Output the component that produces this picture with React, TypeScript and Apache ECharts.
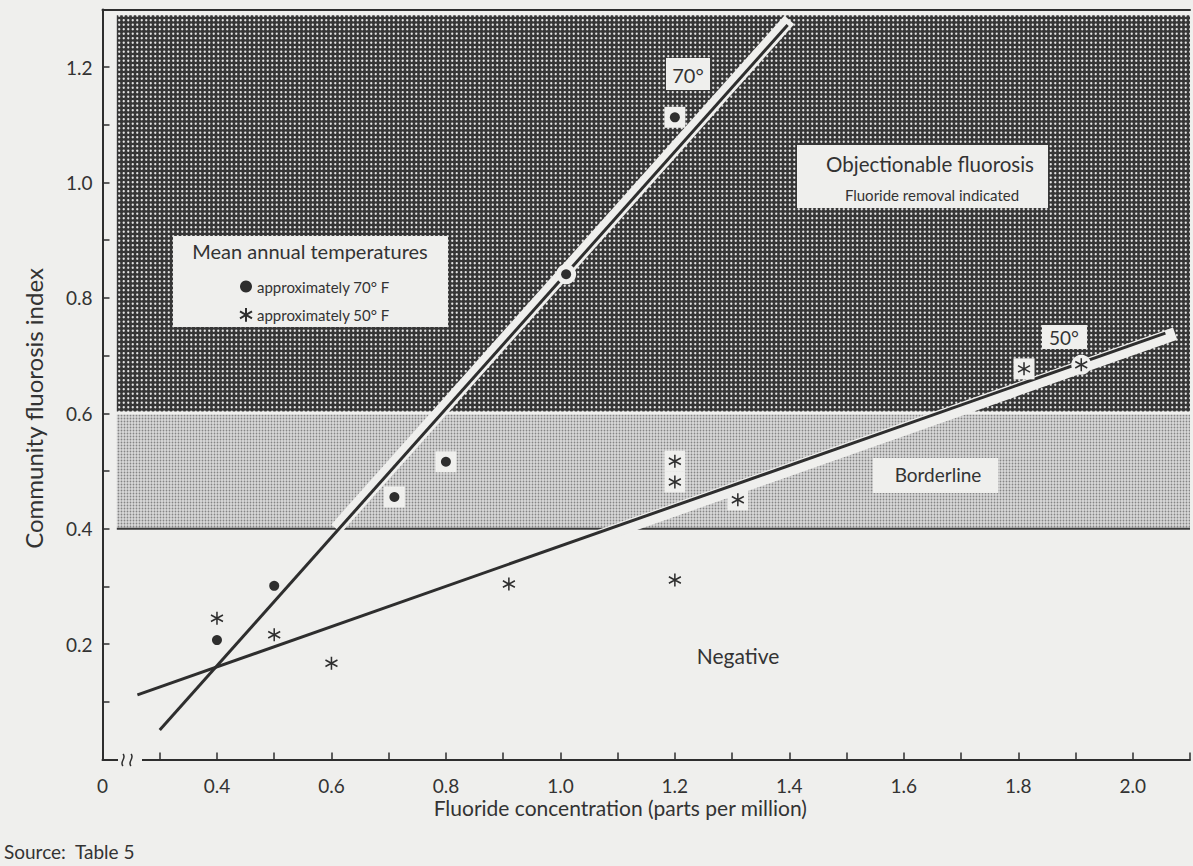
import React, { useEffect, useRef } from "react";
import * as echarts from "echarts";

// ---- axes ----
const X_MIN = 0.2;
const X_MAX = 2.1;
const Y_MIN = 0;
const Y_MAX = 1.3;
const TICK_STEP = 0.1;
const xTickLabels = ["0", "", "0.4", "", "0.6", "", "0.8", "", "1.0", "", "1.2", "", "1.4", "", "1.6", "", "1.8", "", "2.0", ""];
const yTickLabels = ["", "", "0.2", "", "0.4", "", "0.6", "", "0.8", "", "1.0", "", "1.2", ""];

// ---- zones (fluorosis index ranges) ----
const zoneXRange = [0.225, 2.1];
const borderlineRange = [0.4, 0.598];
const objectionableRange = [0.603, 1.29];

// ---- regression lines ----
const line70 = [[0.3, 0.051], [1.397, 1.273]];
const line50 = [[0.261, 0.112], [2.057, 0.739]];

// ---- observed communities ----
const points70 = [[0.4, 0.207], [0.5, 0.301], [0.71, 0.455], [0.8, 0.516], [1.01, 0.841], [1.2, 1.113]];
const points50 = [[0.4, 0.245], [0.5, 0.216], [0.6, 0.167], [0.91, 0.304], [1.2, 0.311], [1.2, 0.481], [1.2, 0.517], [1.31, 0.45], [1.81, 0.677], [1.91, 0.684]];

const NAME70 = "approximately 70\u00B0 F";
const NAME50 = "approximately 50\u00B0 F";

const PAPER = "#efefed";
const INK = "#2e2e2e";
const FONT = "Lato, 'DejaVu Sans', sans-serif";
const ASTERISK = "path://M0,-10L0,10M-8.66,-5L8.66,5M-8.66,5L8.66,-5";

const slope = (l: number[][]) => (l[1][1] - l[0][1]) / (l[1][0] - l[0][0]);
const yOn = (l: number[][], x: number) => l[0][1] + slope(l) * (x - l[0][0]);
const xOn = (l: number[][], y: number) => l[0][0] + (y - l[0][1]) / slope(l);

function svgUrl(svg: string) {
  return "data:image/svg+xml;charset=utf-8," + encodeURIComponent(svg);
}
const darkPattern = {
  image: svgUrl(
    "<svg xmlns='http://www.w3.org/2000/svg' width='9' height='9'><rect width='9' height='9' fill='#363636'/>" +
      "<circle cx='2.25' cy='2.25' r='1.15' fill='#e4e4e4'/><circle cx='6.75' cy='2.25' r='1.15' fill='#e4e4e4'/>" +
      "<circle cx='2.25' cy='6.75' r='1.15' fill='#e4e4e4'/><circle cx='6.75' cy='6.75' r='1.15' fill='#e4e4e4'/></svg>"
  ),
  repeat: "repeat",
  imageWidth: 9,
  imageHeight: 9,
};
const lightPattern = {
  image: svgUrl(
    "<svg xmlns='http://www.w3.org/2000/svg' width='6' height='6'><rect width='6' height='6' fill='#d9d9d9'/>" +
      "<circle cx='1.5' cy='1.5' r='0.9' fill='#858585'/><circle cx='4.5' cy='1.5' r='0.9' fill='#858585'/>" +
      "<circle cx='1.5' cy='4.5' r='0.9' fill='#858585'/><circle cx='4.5' cy='4.5' r='0.9' fill='#858585'/></svg>"
  ),
  repeat: "repeat",
  imageWidth: 6,
  imageHeight: 6,
};

export default function App() {
  const ref = useRef<HTMLDivElement>(null);

  useEffect(() => {
    if (!ref.current) return;
    const chart = echarts.init(ref.current, null, { renderer: "svg" });

    // white casing bands along the lines inside the shaded zones
    const b70s = xOn(line70, 0.4);
    const b70e = line70[1][0] + 0.008;
    const band70 = [b70s, b70e].map((x) => [x - 0.005, yOn(line70, x)]);
    const b50s = 1.04;
    const b50e = line50[1][0] + 0.017;
    const band50 = [b50s, b50e].map((x) => [x, yOn(line50, x) - 0.007]);

    // white backing behind symbols lying in shaded zones
    const backing: any[] = [];
    const addBacking = (pts: number[][], l: number[][]) => {
      pts.forEach(([x, y]) => {
        if (y < 0.4) return;
        const onLine = Math.abs(y - yOn(l, x)) * 577 < 8;
        backing.push({
          value: [x, y],
          symbol: onLine ? "circle" : "rect",
          symbolSize: onLine ? 20 : 21,
        });
      });
    };
    addBacking(points70, line70);
    addBacking(points50, line50);

    const axisLineStyle = { color: INK, width: 2 };

    chart.setOption({
      animation: false,
      backgroundColor: PAPER,
      textStyle: { fontFamily: FONT },
      grid: { left: 102.5, top: 9.4, width: 1092.5, height: 750.1 },
      legend: {
        data: [NAME70, NAME50],
        orient: "vertical",
        left: 234,
        top: 274,
        itemWidth: 12,
        itemHeight: 14,
        itemGap: 13,
        selectedMode: false,
        z: 20,
        textStyle: { fontFamily: FONT, fontSize: 15, color: "#333" },
      },
      xAxis: [
        {
          type: "value",
          min: X_MIN,
          max: X_MAX,
          interval: TICK_STEP,
          position: "bottom",
          name: "Fluoride concentration (parts per million)",
          nameLocation: "middle",
          nameGap: 37,
          nameMoveOverlap: false,
          nameTextStyle: { fontFamily: FONT, fontSize: 21, color: "#333", padding: [0, 52, 0, 0] },
          axisLine: { lineStyle: axisLineStyle },
          axisTick: { inside: true, length: 7, lineStyle: { color: INK, width: 1.5 } },
          axisLabel: {
            margin: 16,
            fontSize: 19,
            color: "#333",
            fontFamily: FONT,
            formatter: (v: number) => xTickLabels[Math.round((v - X_MIN) / TICK_STEP)] ?? "",
          },
          splitLine: { show: false },
        },
        {
          type: "value",
          min: X_MIN,
          max: X_MAX,
          position: "top",
          axisLine: { show: true, lineStyle: axisLineStyle },
          axisTick: { show: false },
          axisLabel: { show: false },
          splitLine: { show: false },
        },
      ],
      yAxis: {
        type: "value",
        min: Y_MIN,
        max: Y_MAX,
        interval: TICK_STEP,
        name: "Community fluorosis index",
        nameLocation: "middle",
        nameGap: 57,
        nameMoveOverlap: false,
        nameTextStyle: { fontFamily: FONT, fontSize: 24, color: "#333", padding: [0, 48, 0, 0] },
        axisLine: { show: true, lineStyle: axisLineStyle },
        axisTick: { inside: true, length: 7, lineStyle: { color: INK, width: 1.5 } },
        axisLabel: {
          margin: 10,
          fontSize: 19,
          color: "#333",
          fontFamily: FONT,
          formatter: (v: number) => yTickLabels[Math.round((v - Y_MIN) / TICK_STEP)] ?? "",
        },
        splitLine: { show: false },
      },
      series: [
        {
          type: "line",
          name: "zones",
          data: [],
          silent: true,
          markArea: {
            silent: true,
            emphasis: { disabled: true },
            label: { show: false },
            data: [
              [
                { coord: [zoneXRange[0], objectionableRange[0]], itemStyle: { color: darkPattern } },
                { coord: [zoneXRange[1], objectionableRange[1]] },
              ],
              [
                { coord: [zoneXRange[0], borderlineRange[0]], itemStyle: { color: lightPattern } },
                { coord: [zoneXRange[1], borderlineRange[1]] },
              ],
            ],
          },
        },
        {
          type: "line",
          name: "boundary",
          z: 2,
          silent: true,
          symbol: "none",
          data: [[zoneXRange[0], borderlineRange[0]], [zoneXRange[1], borderlineRange[0]]],
          lineStyle: { color: "#3a3a3a", width: 2 },
        },
        {
          type: "line",
          name: "band70",
          z: 3,
          silent: true,
          symbol: "none",
          data: band70,
          lineStyle: { color: PAPER, width: 13, cap: "butt" },
        },
        {
          type: "line",
          name: "band50",
          z: 3,
          silent: true,
          symbol: "none",
          data: band50,
          lineStyle: { color: PAPER, width: 13, cap: "butt" },
        },
        {
          type: "line",
          name: "70\u00B0",
          z: 4,
          silent: true,
          symbol: "none",
          data: line70,
          lineStyle: { color: INK, width: 3 },
        },
        {
          type: "line",
          name: "50\u00B0",
          z: 4,
          silent: true,
          symbol: "none",
          data: line50,
          lineStyle: { color: INK, width: 3 },
        },
        {
          type: "scatter",
          name: "backing",
          z: 5,
          silent: true,
          data: backing,
          itemStyle: { color: PAPER, opacity: 1 },
        },
        {
          type: "scatter",
          name: NAME70,
          z: 6,
          symbol: "circle",
          symbolSize: 10,
          data: points70,
          itemStyle: { color: INK, opacity: 1 },
        },
        {
          type: "scatter",
          name: NAME50,
          z: 6,
          symbol: ASTERISK,
          symbolSize: [12, 13],
          data: points50,
          itemStyle: { color: "rgba(0,0,0,0)", borderColor: INK, borderWidth: 1.6, opacity: 1 },
        },
      ],
      graphic: {
        elements: [
          { type: "rect", z: 10, shape: { x: 173, y: 236, width: 275, height: 91 }, style: { fill: PAPER } },
          {
            type: "text", z: 11, x: 310, y: 251,
            style: { text: "Mean annual temperatures", font: `20px ${FONT}`, fill: "#333", align: "center", verticalAlign: "middle" },
          },
          { type: "rect", z: 10, shape: { x: 797, y: 145, width: 251, height: 63 }, style: { fill: PAPER } },
          {
            type: "text", z: 11, x: 930, y: 164,
            style: { text: "Objectionable fluorosis", font: `20.5px ${FONT}`, fill: "#333", align: "center", verticalAlign: "middle" },
          },
          {
            type: "text", z: 11, x: 932, y: 195,
            style: { text: "Fluoride removal indicated", font: `15px ${FONT}`, fill: "#333", align: "center", verticalAlign: "middle" },
          },
          { type: "rect", z: 10, shape: { x: 873, y: 458, width: 125, height: 35 }, style: { fill: PAPER } },
          {
            type: "text", z: 11, x: 938, y: 474,
            style: { text: "Borderline", font: `19px ${FONT}`, fill: "#333", align: "center", verticalAlign: "middle" },
          },
          {
            type: "text", z: 11, x: 738, y: 655,
            style: { text: "Negative", font: `21px ${FONT}`, fill: "#333", align: "center", verticalAlign: "middle" },
          },
          { type: "rect", z: 10, shape: { x: 666, y: 58, width: 44, height: 32 }, style: { fill: PAPER } },
          {
            type: "text", z: 11, x: 688, y: 75,
            style: { text: "70\u00B0", font: `20px ${FONT}`, fill: "#333", align: "center", verticalAlign: "middle" },
          },
          { type: "rect", z: 10, shape: { x: 1042, y: 325, width: 45, height: 24 }, style: { fill: PAPER } },
          {
            type: "text", z: 11, x: 1064, y: 337,
            style: { text: "50\u00B0", font: `19px ${FONT}`, fill: "#333", align: "center", verticalAlign: "middle" },
          },
          {
            type: "text", z: 11, x: 4, y: 861,
            style: { text: "Source:  Table 5", font: `19px ${FONT}`, fill: "#333", align: "left", verticalAlign: "bottom" },
          },
          { type: "rect", z: 10, shape: { x: 118, y: 753, width: 24, height: 13 }, style: { fill: PAPER } },
          {
            type: "bezierCurve", z: 11,
            shape: { x1: 123, y1: 754, x2: 123, y2: 766, cpx1: 127, cpy1: 758, cpx2: 119, cpy2: 762 },
            style: { stroke: INK, lineWidth: 1.5, fill: "none" },
          },
          {
            type: "bezierCurve", z: 11,
            shape: { x1: 131, y1: 754, x2: 131, y2: 766, cpx1: 135, cpy1: 758, cpx2: 127, cpy2: 762 },
            style: { stroke: INK, lineWidth: 1.5, fill: "none" },
          },
        ],
      },
    });

    return () => chart.dispose();
  }, []);

  return (
    <div
      ref={ref}
      style={{ position: "fixed", left: 0, top: 0, width: 1193, height: 866, background: PAPER }}
    />
  );
}
